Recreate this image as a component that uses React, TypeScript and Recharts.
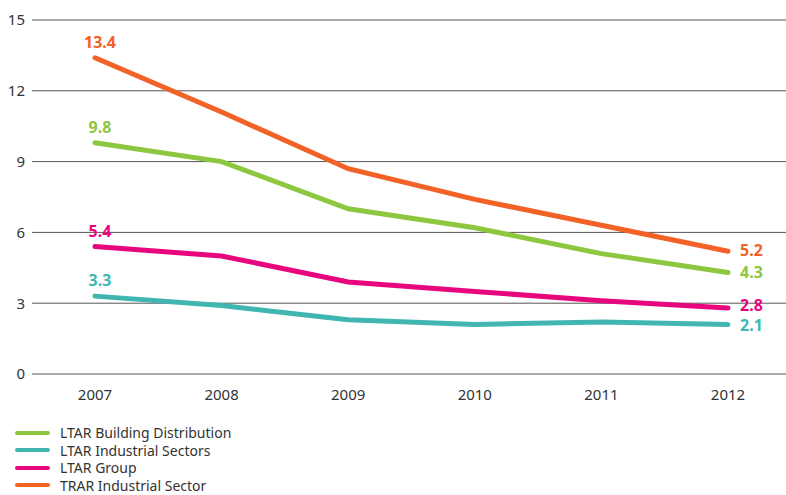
import { CartesianGrid, LabelList, Legend, Line, LineChart, XAxis, YAxis } from "recharts";

const years = ["2007", "2008", "2009", "2010", "2011", "2012"];
const buildingDistribution = [9.8, 9.0, 7.0, 6.2, 5.1, 4.3];
const industrialSectors = [3.3, 2.9, 2.3, 2.1, 2.2, 2.1];
const ltarGroup = [5.4, 5.0, 3.9, 3.5, 3.1, 2.8];
const trarIndustrial = [13.4, 11.1, 8.7, 7.4, 6.3, 5.2];
const yTicks = [0, 3, 6, 9, 12, 15];

const SERIES = [
  { key: "building", name: "LTAR Building Distribution", color: "#8dc63f", values: buildingDistribution, nudge: 0 },
  { key: "industrial", name: "LTAR Industrial Sectors", color: "#41b6b1", values: industrialSectors, nudge: 2 },
  { key: "group", name: "LTAR Group", color: "#e8067f", values: ltarGroup, nudge: -2 },
  { key: "trar", name: "TRAR Industrial Sector", color: "#f26126", values: trarIndustrial, nudge: 0 },
];

const data = years.map((year, i) => {
  const row: Record<string, string | number> = { year };
  SERIES.forEach((s) => (row[s.key] = s.values[i]));
  return row;
});

const FONT = "'Noto Sans', 'Open Sans', sans-serif";

function endLabel(color: string, nudge: number) {
  return (props: any) => {
    const { x, y, index, value } = props;
    if (index === 0) {
      return (
        <text x={x + 5} y={y - 10} textAnchor="middle" fill={color} fontSize={16} fontWeight={700} fontFamily={FONT}>
          {Number(value).toFixed(1)}
        </text>
      );
    }
    if (index === years.length - 1) {
      return (
        <text x={x + 12} y={y + nudge} dy={5} textAnchor="start" fill={color} fontSize={16} fontWeight={700} fontFamily={FONT}>
          {Number(value).toFixed(1)}
        </text>
      );
    }
    return null;
  };
}

function LegendList() {
  return (
    <div style={{ fontFamily: FONT, fontSize: 14, color: "#333" }}>
      {SERIES.map((s) => (
        <div key={s.key} style={{ display: "flex", alignItems: "center", height: 17.5 }}>
          <svg width={45} height={6} style={{ flexShrink: 0 }}>
            <line x1={2} y1={3} x2={33} y2={3} stroke={s.color} strokeWidth={4} strokeLinecap="round" />
          </svg>
          <span>{s.name}</span>
        </div>
      ))}
    </div>
  );
}

export default function App() {
  return (
    <div style={{ position: "absolute", left: 0, top: 0 }}>
      <LineChart width={786} height={495} data={data} margin={{ top: 20, right: 0, bottom: 19, left: 0 }}>
        <CartesianGrid vertical={false} stroke="#555" strokeWidth={1} />
        <XAxis
          dataKey="year"
          axisLine={false}
          tickLine={false}
          tickSize={0}
          tickMargin={15}
          height={30}
          padding={{ left: 63, right: 58 }}
          tick={{ fontSize: 15, fill: "#333", fontFamily: FONT }}
        />
        <YAxis
          domain={[0, 15]}
          ticks={yTicks}
          axisLine={false}
          tickLine={false}
          tickSize={0}
          tickMargin={7}
          width={32}
          tick={{ fontSize: 15, fill: "#333", fontFamily: FONT }}
        />
        <Legend
          verticalAlign="bottom"
          align="left"
          content={() => <LegendList />}
          wrapperStyle={{ top: 424, left: 15, width: 320, height: 72 }}
        />
        {SERIES.map((s) => (
          <Line
            key={s.key}
            dataKey={s.key}
            name={s.name}
            type="linear"
            stroke={s.color}
            strokeWidth={5}
            strokeLinecap="round"
            dot={false}
            activeDot={false}
            isAnimationActive={false}
          >
            <LabelList dataKey={s.key} content={endLabel(s.color, s.nudge)} />
          </Line>
        ))}
      </LineChart>
    </div>
  );
}
